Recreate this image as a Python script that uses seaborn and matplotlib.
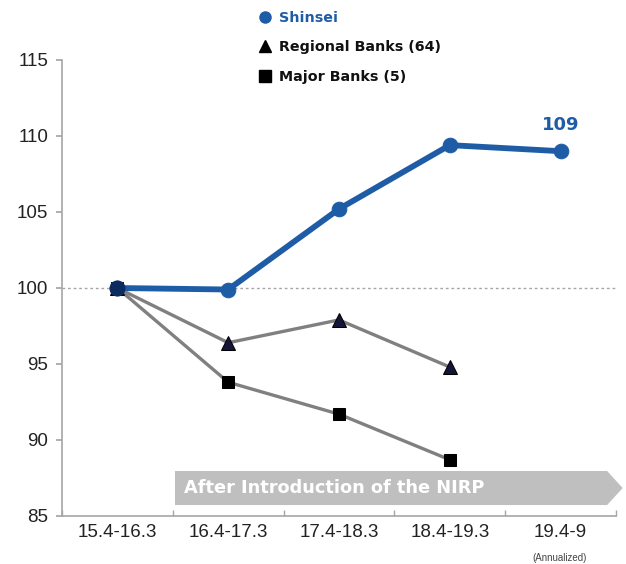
import matplotlib
matplotlib.use("Agg")
import matplotlib.pyplot as plt
import seaborn as sns
import pandas as pd
from matplotlib.patches import Polygon
from matplotlib.lines import Line2D

categories = ["15.4-16.3", "16.4-17.3", "17.4-18.3", "18.4-19.3", "19.4-9"]
shinsei = [100.0, 99.9, 105.2, 109.4, 109.0]
regional = [100.0, 96.4, 97.9, 94.8]
major = [100.0, 93.8, 91.7, 88.7]
series_names = ["Shinsei", "Regional Banks (64)", "Major Banks (5)"]
yticks = [85, 90, 95, 100, 105, 110, 115]

sns.set_theme(style="white")
plt.rcParams["font.family"] = ["Liberation Sans", "DejaVu Sans"]

BLUE = "#1f5ca6"
GRAY = "#808080"

fig = plt.figure(figsize=(6.26, 5.64), dpi=100)
ax = fig.add_axes([62 / 626, 1 - 516 / 564, (616 - 62) / 626, (516 - 60) / 564])

df_s = pd.DataFrame({"x": range(len(shinsei)), "y": shinsei})
df_r = pd.DataFrame({"x": range(len(regional)), "y": regional})
df_m = pd.DataFrame({"x": range(len(major)), "y": major})

ax.axhline(100, color="#a6a6a6", lw=1, ls=(0, (2, 2)), zorder=1)

sns.lineplot(data=df_m, x="x", y="y", ax=ax, color=GRAY, lw=2.4, marker="s",
             markersize=8.5, markerfacecolor="black", markeredgecolor="black", zorder=3)
sns.lineplot(data=df_r, x="x", y="y", ax=ax, color=GRAY, lw=2.4, marker="^",
             markersize=10, markerfacecolor="#15153a", markeredgecolor="black", zorder=3)
sns.lineplot(data=df_s, x="x", y="y", ax=ax, color=BLUE, lw=4.2, marker="o",
             markersize=10.5, markerfacecolor=BLUE, markeredgecolor=BLUE, zorder=4)
ax.plot([0], [100], marker="o", markersize=10.5, color="#0d2b5e", zorder=5)

ax.set_xlim(-0.5, 4.5)
ax.set_ylim(85, 115)
ax.set_yticks(yticks)
ax.set_xticks(range(len(categories)))
ax.set_xticklabels(categories, fontsize=13.5, color="#222222")
ax.set_yticklabels([str(v) for v in yticks], fontsize=13.5, color="#222222")
ax.set_xlabel("")
ax.set_ylabel("")
ax.tick_params(axis="x", length=0, pad=6)
ax.tick_params(axis="y", length=4, direction="out", color="#a6a6a6", left=True, pad=6)
ax.set_xticks([-0.5, 0.5, 1.5, 2.5, 3.5, 4.5], minor=True)
ax.tick_params(axis="x", which="minor", length=4, direction="in", color="#a6a6a6", bottom=True)
for s in ["top", "right"]:
    ax.spines[s].set_visible(False)
for s in ["left", "bottom"]:
    ax.spines[s].set_color("#a6a6a6")
    ax.spines[s].set_linewidth(1.2)

arrow = Polygon([(0.52, 87.96), (4.42, 87.96), (4.56, 86.84), (4.42, 85.72), (0.52, 85.72)],
                closed=True, facecolor="#bfbfbf", edgecolor="none", clip_on=False, zorder=2)
ax.add_patch(arrow)
ax.text(0.6, 86.84, "After Introduction of the NIRP", color="white", fontsize=12.8,
        fontweight="bold", family="DejaVu Sans", va="center", ha="left", zorder=3)

ax.text(4, 110.1, "109", color=BLUE, fontsize=13, fontweight="bold",
        family="DejaVu Sans", ha="center", va="bottom")
fig.text(560 / 626, 1 - 558 / 564, "(Annualized)", fontsize=7, color="#444444",
         ha="center", va="center")

handles = [
    Line2D([], [], ls="none", marker="o", color=BLUE, markersize=8),
    Line2D([], [], ls="none", marker="^", color="black", markersize=9),
    Line2D([], [], ls="none", marker="s", color="black", markersize=8),
]
leg = fig.legend(handles, series_names, loc="upper left",
                 bbox_to_anchor=(246 / 626, 1 + 2 / 564), frameon=False,
                 handlelength=0.8, handletextpad=0.6, labelspacing=1.08,
                 prop={"family": "DejaVu Sans", "weight": "bold", "size": 10.3})
for t, c in zip(leg.get_texts(), [BLUE, "#111111", "#111111"]):
    t.set_color(c)

fig.savefig("out.png", dpi=100)
